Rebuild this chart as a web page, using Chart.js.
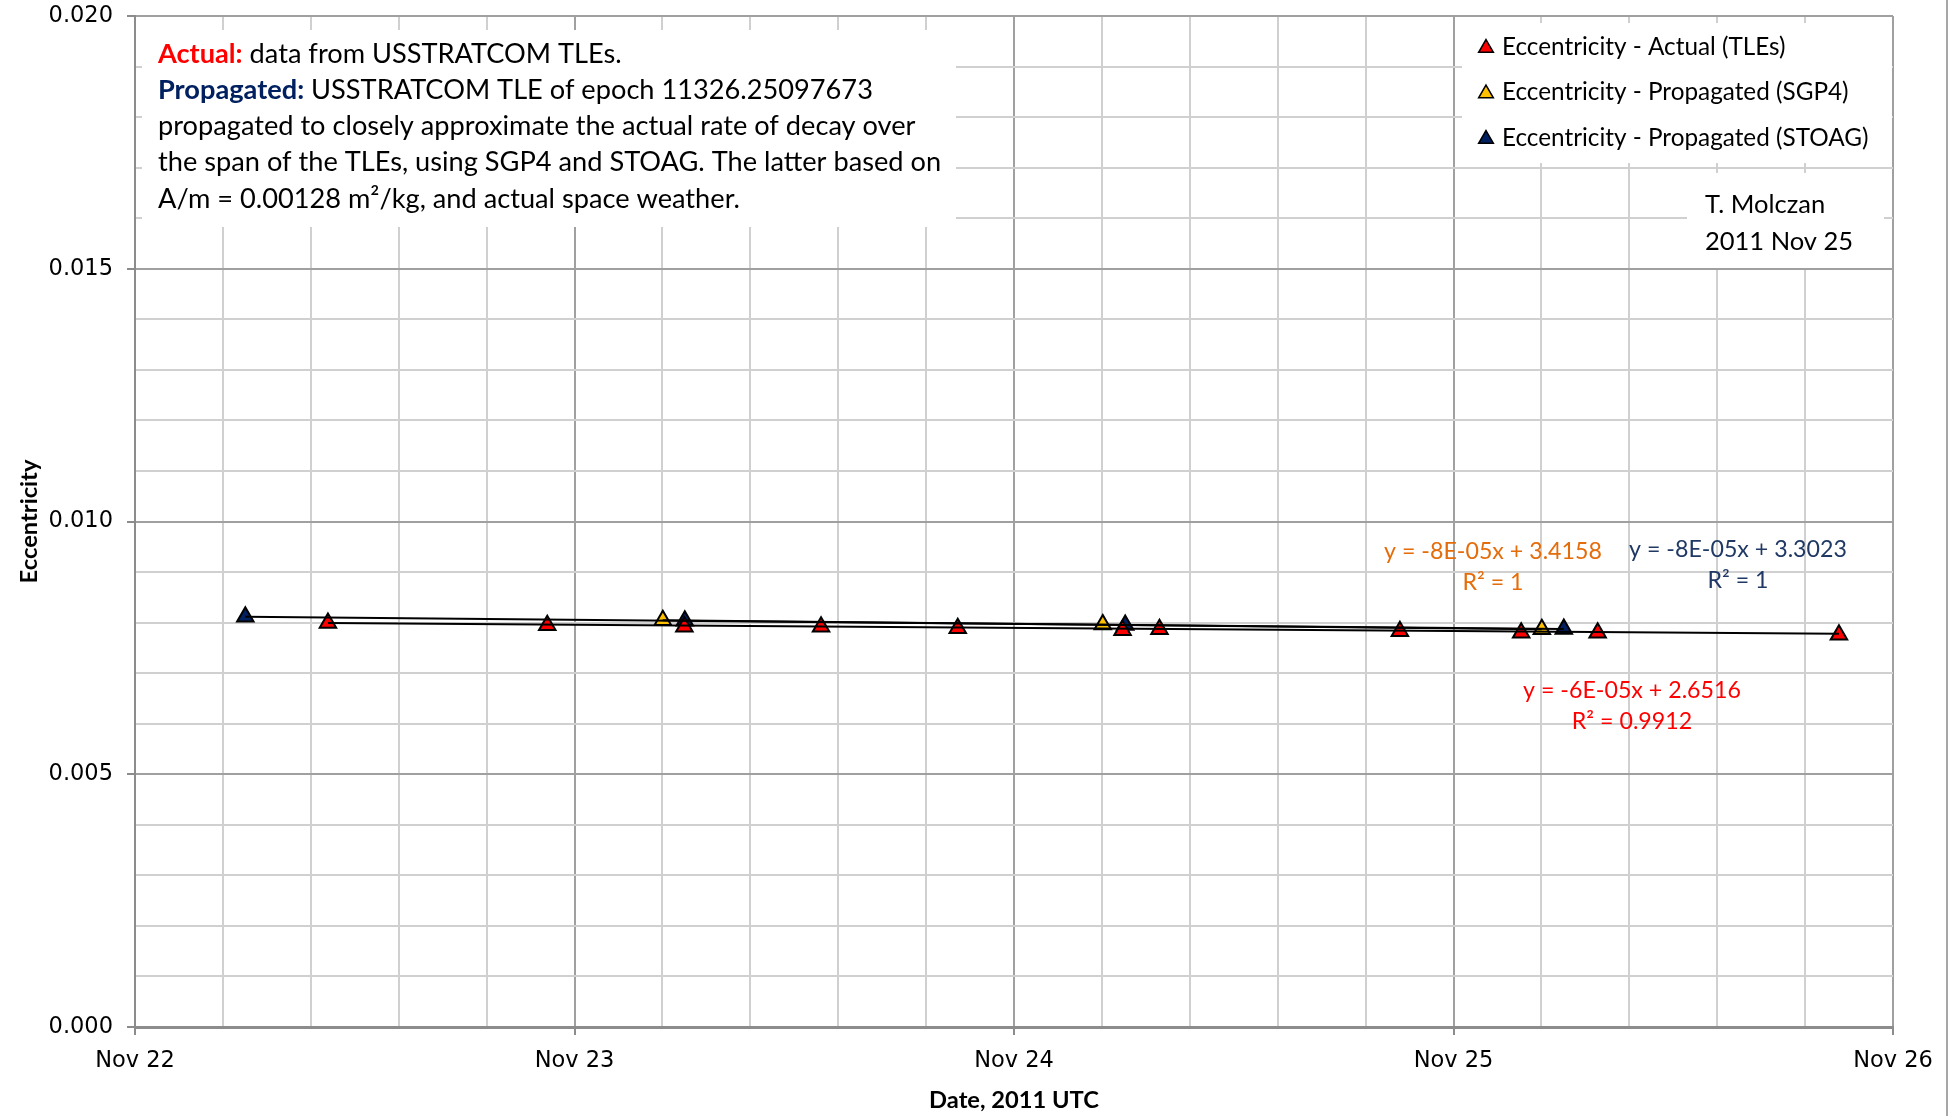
<!DOCTYPE html>
<html>
<head>
<meta charset="utf-8">
<script src="https://cdn.jsdelivr.net/npm/chart.js@4/dist/chart.umd.min.js"></script>
<style>
html, body { margin: 0; padding: 0; background: #ffffff; }
canvas { display: block; }
</style>
</head>
<body>
<canvas id="chart" width="1949" height="1116"></canvas>
<script>
// ---------------- DATA (x = day of November 2011, UTC) ----------------
const monthName = 'Nov';
const seriesNames = [
  'Eccentricity - Actual (TLEs)',
  'Eccentricity - Propagated (SGP4)',
  'Eccentricity - Propagated (STOAG)'
];
const seriesColors = ['#FF0000', '#FFC000', '#002060'];

const actualDays = [22.439, 22.938, 23.250, 23.561, 23.872, 24.247, 24.331, 24.878, 25.154, 25.328, 25.877];
const actualEcc  = [0.00799, 0.00795, 0.00792, 0.00792, 0.00789, 0.00785, 0.00787, 0.00783, 0.00780, 0.00780, 0.00776];

const sgp4Days = [23.201, 24.202, 25.201];
const sgp4Ecc  = [0.008045, 0.00796, 0.00787];

const stoagDays = [22.251, 23.251, 24.253, 25.251];
const stoagEcc  = [0.008117, 0.008038, 0.007953, 0.007874];

// linear trendlines (end points)
const actualTrendDays = [22.439, 25.877];
const actualTrendEcc  = [0.00799, 0.00778];
const sgp4TrendDays   = [23.201, 25.201];
const sgp4TrendEcc    = [0.008045, 0.00787];
const stoagTrendDays  = [22.251, 25.251];
const stoagTrendEcc   = [0.008117, 0.007874];

const trendEquations = [
  ['y = -6E-05x + 2.6516', 'R\u00B2 = 0.9912'],
  ['y = -8E-05x + 3.4158', 'R\u00B2 = 1'],
  ['y = -8E-05x + 3.3023', 'R\u00B2 = 1']
];

const xAxisTitle = 'Date, 2011 UTC';
const yAxisTitle = 'Eccentricity';
const noteLines = [
  [['Actual:', 'bold', '#FF0000'], [' data from USSTRATCOM TLEs.', 'normal', '#000000']],
  [['Propagated:', 'bold', '#002060'], [' USSTRATCOM TLE of epoch 11326.25097673', 'normal', '#000000']],
  [['propagated to closely approximate the actual rate of decay over', 'normal', '#000000']],
  [['the span of the TLEs, using SGP4 and STOAG. The latter based on', 'normal', '#000000']],
  [['A/m = 0.00128 m\u00B2/kg, and actual space weather.', 'normal', '#000000']]
];
const authorLines = ['T. Molczan', '2011 Nov 25'];

// ---------------- helpers ----------------
const pts = (xs, ys) => xs.map((x, i) => ({ x: x, y: ys[i] }));
const mctx = document.createElement('canvas').getContext('2d');
function fitSize(text, family, weight, target) {
  mctx.font = weight + ' 100px ' + family;
  return Math.round(100 * target / mctx.measureText(text).width * 10) / 10;
}
const isMajorY = v => Math.abs(v / 0.005 - Math.round(v / 0.005)) < 1e-6;
const isMajorX = v => Math.abs(v - Math.round(v)) < 1e-6;

function build() {
  const TXT = 'Lato';
  const noteSize   = fitSize('propagated to closely approximate the actual rate of decay over', TXT, 'normal', 758);
  const legendSize = fitSize('Eccentricity - Propagated (STOAG)', TXT, 'normal', 366);
  const eqSize     = fitSize('y = -8E-05x + 3.4158', TXT, 'normal', 218);
  const authSize   = fitSize('2011 Nov 25', TXT, 'normal', 148);
  const titleSize  = fitSize(xAxisTitle, TXT, 'bold', 170);
  const tickSize   = 22.5;

  const markerBase = {
    pointStyle: 'triangle', pointRadius: 9.5, pointHoverRadius: 9.5,
    pointBorderColor: '#000000', pointBorderWidth: 2, showLine: false, order: 1
  };
  const trendBase = {
    showLine: true, borderColor: '#000000', borderWidth: 2, pointRadius: 0,
    pointHoverRadius: 0, fill: false, order: 0
  };

  const annot = {
    id: 'annot',
    beforeDatasetsDraw(chart) {
      const c = chart.ctx;
      c.save();
      // white text boxes
      c.fillStyle = '#ffffff';
      c.fillRect(142, 30, 814, 197);
      c.fillRect(1462, 23, 430, 140);
      c.fillRect(1687, 173, 197, 95);

      // notes
      c.textBaseline = 'middle';
      c.textAlign = 'left';
      noteLines.forEach((line, i) => {
        let x = 158;
        const y = 54 + i * 36.2;
        line.forEach(([t, w, col]) => {
          c.font = w + ' ' + noteSize + 'px ' + TXT;
          c.fillStyle = col;
          c.fillText(t, x, y);
          x += c.measureText(t).width;
        });
      });

      // legend
      const ds = chart.data.datasets.filter(d => d.order === 1);
      ds.forEach((d, i) => {
        const y = 47 + i * 45.5;
        c.fillStyle = d.pointBackgroundColor;
        c.strokeStyle = '#000000';
        c.lineWidth = 1.5;
        Chart.helpers.drawPoint(c, { pointStyle: 'triangle', rotation: 0, radius: 8.5, borderWidth: 1.5 }, 1486, y + 1);
        c.fillStyle = '#000000';
        c.font = 'normal ' + legendSize + 'px ' + TXT;
        c.fillText(d.label, 1502, y);
      });

      // author
      c.font = 'normal ' + authSize + 'px ' + TXT;
      c.fillStyle = '#000000';
      c.fillText(authorLines[0], 1705, 205);
      c.fillText(authorLines[1], 1705, 242);

      // trendline equations
      c.textAlign = 'center';
      c.font = 'normal ' + eqSize + 'px ' + TXT;
      const eqPos = [[1632, 691, '#FF0000'], [1493, 552, '#E46C0A'], [1738, 550, '#1F3864']];
      trendEquations.forEach((lines, i) => {
        const [cx, cy, col] = eqPos[i];
        c.fillStyle = col;
        c.fillText(lines[0], cx, cy);
        c.fillText(lines[1], cx, cy + 31);
      });
      c.restore();
    },
    afterDraw(chart) {
      const c = chart.ctx;
      c.save();
      c.strokeStyle = '#A6A6A6';
      c.lineWidth = 2;
      c.beginPath();
      c.moveTo(1947, 0);
      c.lineTo(1947, 1116);
      c.stroke();
      c.restore();
    }
  };

  new Chart(document.getElementById('chart'), {
    type: 'scatter',
    data: {
      datasets: [
        Object.assign({ label: 'trend-actual', data: pts(actualTrendDays, actualTrendEcc) }, trendBase),
        Object.assign({ label: 'trend-sgp4', data: pts(sgp4TrendDays, sgp4TrendEcc) }, trendBase),
        Object.assign({ label: 'trend-stoag', data: pts(stoagTrendDays, stoagTrendEcc) }, trendBase),
        Object.assign({ label: seriesNames[0], data: pts(actualDays, actualEcc), pointBackgroundColor: seriesColors[0] }, markerBase),
        Object.assign({ label: seriesNames[1], data: pts(sgp4Days, sgp4Ecc), pointBackgroundColor: seriesColors[1] }, markerBase),
        Object.assign({ label: seriesNames[2], data: pts(stoagDays, stoagEcc), pointBackgroundColor: seriesColors[2] }, markerBase)
      ]
    },
    options: {
      responsive: false,
      animation: false,
      devicePixelRatio: 1,
      layout: { padding: { left: 0, right: 56, top: 16, bottom: 0 } },
      plugins: { legend: { display: false }, tooltip: { enabled: false }, title: { display: false } },
      scales: {
        x: {
          type: 'linear', min: 22, max: 26,
          afterFit(s) { s.height = 89; s.paddingLeft = 0; s.paddingRight = 0; },
          ticks: {
            stepSize: 0.2, autoSkip: false, maxRotation: 0, minRotation: 0,
            color: '#000000', padding: 13,
            font: { family: 'DejaVu Sans', size: tickSize },
            callback: v => isMajorX(v) ? monthName + ' ' + Math.round(v) : ''
          },
          grid: {
            lineWidth: 2, tickLength: 8,
            color: c => isMajorX(c.tick.value) ? '#A0A0A0' : '#D0D0D0',
            tickColor: c => isMajorX(c.tick.value) ? '#8C8C8C' : 'rgba(0,0,0,0)'
          },
          border: { color: '#8C8C8C', width: 3 },
          title: {
            display: true, text: xAxisTitle, color: '#000000',
            font: { family: TXT, weight: 'bold', size: titleSize },
            padding: { top: 0, bottom: 1 }
          }
        },
        y: {
          type: 'linear', min: 0, max: 0.02,
          afterFit(s) { s.width = 135; s.paddingTop = 0; s.paddingBottom = 0; },
          ticks: {
            stepSize: 0.001, autoSkip: false, color: '#000000', padding: 14,
            font: { family: 'DejaVu Sans', size: tickSize },
            callback: v => isMajorY(v) ? v.toFixed(3) : ''
          },
          grid: {
            lineWidth: 2, tickLength: 8,
            color: c => isMajorY(c.tick.value) ? '#A0A0A0' : '#D0D0D0',
            tickColor: c => isMajorY(c.tick.value) ? '#8C8C8C' : 'rgba(0,0,0,0)'
          },
          border: { color: '#8C8C8C', width: 2 },
          title: {
            display: true, text: yAxisTitle, color: '#000000',
            font: { family: TXT, weight: 'bold', size: titleSize },
            padding: { top: 15, bottom: 0 }
          }
        }
      }
    },
    plugins: [annot]
  });
}

Promise.all([
  document.fonts.load('20px Lato'),
  document.fonts.load('bold 20px Lato'),
  document.fonts.load('20px "DejaVu Sans"')
]).then(build, build);
</script>
</body>
</html>
